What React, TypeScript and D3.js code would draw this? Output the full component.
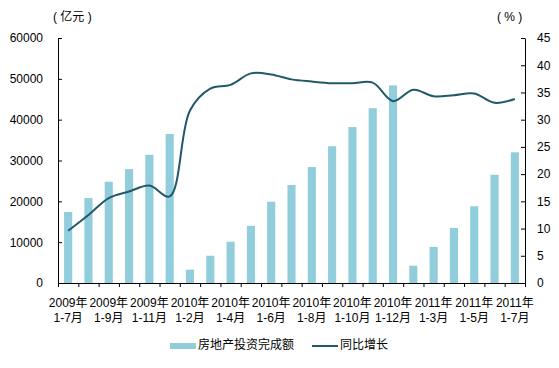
import React, { useEffect, useRef } from "react";
import {
  axisBottom,
  axisLeft,
  axisRight,
  curveCatmullRom,
  line,
  range,
  scaleBand,
  scaleLinear,
  select,
} from "d3";

// 累计月份
const years = [
  "2009年", "2009年", "2009年", "2009年", "2009年", "2009年",
  "2010年", "2010年", "2010年", "2010年", "2010年", "2010年",
  "2010年", "2010年", "2010年", "2010年", "2010年",
  "2011年", "2011年", "2011年", "2011年", "2011年", "2011年",
];
const periods = [
  "1-7月", "1-8月", "1-9月", "1-10月", "1-11月", "1-12月",
  "1-2月", "1-3月", "1-4月", "1-5月", "1-6月", "1-7月",
  "1-8月", "1-9月", "1-10月", "1-11月", "1-12月",
  "1-2月", "1-3月", "1-4月", "1-5月", "1-6月", "1-7月",
];
// 房地产投资完成额（亿元）
const investment = [
  17400, 20800, 24800, 27900, 31400, 36500,
  3260, 6680, 10100, 14000, 19900, 24000,
  28400, 33500, 38200, 42800, 48400,
  4230, 8860, 13500, 18800, 26500, 32000,
];
// 同比增长（%）
const growth = [
  9.6, 12.5, 15.6, 16.8, 17.9, 15.9,
  31.7, 35.7, 36.4, 38.5, 38.3, 37.4,
  37.0, 36.7, 36.7, 36.8, 33.4,
  35.5, 34.3, 34.5, 34.8, 33.1, 33.8,
];
const leftTicks = [0, 10000, 20000, 30000, 40000, 50000, 60000];
const rightTicks = [0, 5, 10, 15, 20, 25, 30, 35, 40, 45];
const seriesNames = ["房地产投资完成额", "同比增长"];

const width = 559;
const height = 368;
const left = 58;
const right = 525;
const top = 38;
const bottom = 283;
const barColor = "#92CDDC";
const lineColor = "#215968";
const font = "'Liberation Sans', 'Noto Sans CJK SC', sans-serif";

const App = () => {
  const svgRef = useRef<SVGSVGElement>(null);

  const x = scaleBand<number>()
    .domain(range(years.length))
    .range([left, right])
    .paddingInner(0.6)
    .paddingOuter(0.3);
  const xEdge = scaleLinear().domain([0, years.length]).range([left, right]);
  const yLeft = scaleLinear().domain([0, 60000]).range([bottom, top]);
  const yRight = scaleLinear().domain([0, 45]).range([bottom, top]);

  const growthLine = line<number>()
    .x((_, i) => (x(i) as number) + x.bandwidth() / 2)
    .y((v) => yRight(v))
    .curve(curveCatmullRom.alpha(0.5));

  useEffect(() => {
    const svg = select(svgRef.current);

    svg
      .select<SVGGElement>(".y-left")
      .attr("transform", `translate(${left},0)`)
      .call(
        axisLeft(yLeft)
          .tickValues(leftTicks)
          .tickSizeInner(-4)
          .tickSizeOuter(0)
          .tickPadding(15)
          .tickFormat((d) => String(d))
      );

    svg
      .select<SVGGElement>(".y-right")
      .attr("transform", `translate(${right},0)`)
      .call(
        axisRight(yRight)
          .tickValues(rightTicks)
          .tickSizeInner(-4)
          .tickSizeOuter(0)
          .tickPadding(12)
          .tickFormat((d) => String(d))
      );

    svg
      .select<SVGGElement>(".x-axis")
      .attr("transform", `translate(0,${bottom})`)
      .call(
        axisBottom(xEdge)
          .tickValues(range(years.length + 1))
          .tickSize(4)
          .tickSizeOuter(0)
          .tickFormat(() => "")
      );

    svg
      .selectAll(".y-left text, .y-right text")
      .attr("font-family", font)
      .attr("font-size", 12)
      .attr("fill", "#000");
    svg.selectAll(".domain, .tick line").attr("stroke", "#000");
  }, []);

  return (
    <svg
      ref={svgRef}
      width={width}
      height={height}
      style={{ position: "absolute", left: 0, top: 0, background: "#fff" }}
    >
      {investment.map((v, i) => (
        <rect
          key={i}
          x={x(i)}
          y={yLeft(v)}
          width={x.bandwidth()}
          height={bottom - yLeft(v)}
          fill={barColor}
        />
      ))}
      <path d={growthLine(growth) ?? ""} fill="none" stroke={lineColor} strokeWidth={2} />

      <g className="x-axis" />
      <g className="y-left" />
      <g className="y-right" />

      <g fontFamily={font} fontSize={12} fill="#000">
        <text x={53} y={18} dominantBaseline="middle">( 亿元 )</text>
        <text x={497} y={18} dominantBaseline="middle">( % )</text>

        {years.map((yr, i) =>
          i % 2 === 0 ? (
            <text
              key={i}
              x={(x(i) as number) + x.bandwidth() / 2}
              textAnchor="middle"
            >
              <tspan x={(x(i) as number) + x.bandwidth() / 2} y={307}>{yr}</tspan>
              <tspan x={(x(i) as number) + x.bandwidth() / 2} y={322}>{periods[i]}</tspan>
            </text>
          ) : null
        )}

        <rect x={170} y={343} width={26} height={6} fill={barColor} />
        <text x={198} y={346} dominantBaseline="middle">{seriesNames[0]}</text>
        <line x1={312} x2={338} y1={346} y2={346} stroke={lineColor} strokeWidth={2} />
        <text x={340} y={346} dominantBaseline="middle">{seriesNames[1]}</text>
      </g>
    </svg>
  );
};

export default App;
